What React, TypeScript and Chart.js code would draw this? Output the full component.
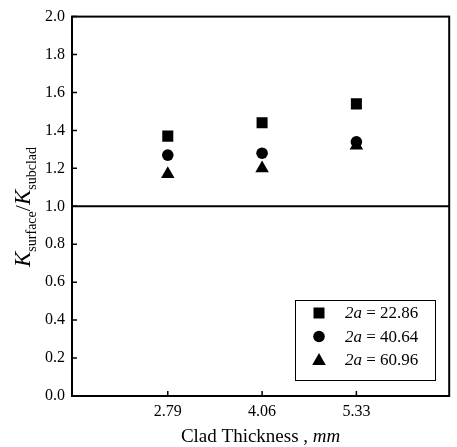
import React, { useEffect, useRef } from "react";
import { Chart, registerables } from "chart.js";

Chart.register(...registerables);

const cladThickness = [2.79, 4.06, 5.33];
const crack2286 = [1.37, 1.44, 1.54];
const crack4064 = [1.27, 1.28, 1.34];
const crack6096 = [1.17, 1.2, 1.32];
const seriesLabels = ["22.86", "40.64", "60.96"];
const yTicks = [0, 0.2, 0.4, 0.6, 0.8, 1.0, 1.2, 1.4, 1.6, 1.8, 2.0];

const FONT = "'Liberation Serif', 'Times New Roman', serif";

function drawMarker(ctx: CanvasRenderingContext2D, style: string, x: number, y: number) {
  ctx.fillStyle = "#000";
  ctx.beginPath();
  if (style === "rect") {
    ctx.rect(x - 5.5, y - 5.5, 11, 11);
  } else if (style === "circle") {
    ctx.arc(x, y, 5.8, 0, Math.PI * 2);
  } else {
    ctx.moveTo(x, y - 6.5);
    ctx.lineTo(x + 6.8, y + 5.5);
    ctx.lineTo(x - 6.8, y + 5.5);
    ctx.closePath();
  }
  ctx.fill();
}

const framePlugin = {
  id: "frame",
  afterDraw(chart: any) {
    const ctx: CanvasRenderingContext2D = chart.ctx;
    const { left, right, top, bottom } = chart.chartArea;
    const xs = chart.scales.x;
    const ys = chart.scales.y;
    ctx.save();
    ctx.strokeStyle = "#000";
    ctx.lineWidth = 2;
    ctx.strokeRect(left, top, right - left, bottom - top);
    const y1 = ys.getPixelForValue(1.0);
    ctx.beginPath();
    ctx.moveTo(left, y1);
    ctx.lineTo(right, y1);
    ctx.stroke();
    ctx.lineWidth = 1.5;
    ctx.beginPath();
    yTicks.forEach((v) => {
      const py = ys.getPixelForValue(v);
      ctx.moveTo(left, py);
      ctx.lineTo(left + 5, py);
    });
    cladThickness.forEach((v) => {
      const px = xs.getPixelForValue(v);
      ctx.moveTo(px, bottom);
      ctx.lineTo(px, bottom - 5);
    });
    ctx.stroke();

    // x title
    ctx.fillStyle = "#000";
    ctx.textBaseline = "alphabetic";
    const normal = `19px ${FONT}`;
    const ital = `italic 19px ${FONT}`;
    const p1 = "Clad Thickness , ";
    const p2 = "mm";
    ctx.font = normal;
    const w1 = ctx.measureText(p1).width;
    ctx.font = ital;
    const w2 = ctx.measureText(p2).width;
    const cx = (left + right) / 2;
    const sx = cx - (w1 + w2) / 2;
    ctx.font = normal;
    ctx.textAlign = "left";
    ctx.fillText(p1, sx, 442);
    ctx.font = ital;
    ctx.fillText(p2, sx + w1, 442);

    // y title (rotated)
    ctx.save();
    ctx.translate(30, 207);
    ctx.rotate(-Math.PI / 2);
    const parts: [string, string, number][] = [
      ["K", `italic 23px ${FONT}`, 0],
      ["surface", `14px ${FONT}`, 6],
      ["/", `22px ${FONT}`, 0],
      ["K", `italic 23px ${FONT}`, 0],
      ["subclad", `14px ${FONT}`, 6],
    ];
    let total = 0;
    parts.forEach(([t, f]) => {
      ctx.font = f;
      total += ctx.measureText(t).width;
    });
    let tx = -total / 2;
    parts.forEach(([t, f, dy]) => {
      ctx.font = f;
      ctx.fillText(t, tx, dy);
      tx += ctx.measureText(t).width;
    });
    ctx.restore();

    // legend
    ctx.lineWidth = 1;
    ctx.strokeRect(295.5, 300.5, 140, 80);
    const styles = ["rect", "circle", "triangle"];
    const rows = [313, 336.5, 359.5];
    styles.forEach((s, i) => {
      drawMarker(ctx, s, 319, rows[i]);
      ctx.textBaseline = "middle";
      ctx.font = `italic 17px ${FONT}`;
      ctx.fillText("2a", 345, rows[i] + 1);
      const wa = ctx.measureText("2a").width;
      ctx.font = `17px ${FONT}`;
      ctx.fillText(" = " + seriesLabels[i], 345 + wa, rows[i] + 1);
    });
    ctx.restore();
  },
};

export default function App() {
  const ref = useRef<HTMLCanvasElement>(null);
  useEffect(() => {
    if (!ref.current) return;
    const mk = (vals: number[]) => vals.map((v, i) => ({ x: cladThickness[i], y: v }));
    const chart = new Chart(ref.current, {
      type: "scatter",
      data: {
        datasets: [
          { label: "2a = 22.86", data: mk(crack2286), pointStyle: "rect", pointRadius: 7.8, backgroundColor: "#000", borderColor: "#000", borderWidth: 0 },
          { label: "2a = 40.64", data: mk(crack4064), pointStyle: "circle", pointRadius: 5.8, backgroundColor: "#000", borderColor: "#000", borderWidth: 0 },
          { label: "2a = 60.96", data: mk(crack6096), pointStyle: "triangle", pointRadius: 7.8, backgroundColor: "#000", borderColor: "#000", borderWidth: 0 },
        ],
      },
      options: {
        responsive: false,
        animation: false,
        devicePixelRatio: 1,
        layout: { padding: { left: 0, top: 13, right: 6, bottom: 0 } },
        plugins: { legend: { display: false }, tooltip: { enabled: false } },
        scales: {
          x: {
            type: "linear",
            min: 1.5,
            max: 6.58,
            grid: { display: false, drawTicks: false },
            border: { display: false },
            afterBuildTicks: (scale: any) => {
              scale.ticks = cladThickness.map((v) => ({ value: v }));
            },
            afterFit: (scale: any) => {
              scale.height = 51;
            },
            ticks: {
              padding: 6,
              color: "#000",
              font: { family: FONT, size: 16 },
              callback: (v: any) => Number(v).toFixed(2),
            },
          },
          y: {
            min: 0,
            max: 2,
            grid: { display: false, drawTicks: false },
            border: { display: false },
            afterBuildTicks: (scale: any) => {
              scale.ticks = yTicks.map((v) => ({ value: v }));
            },
            afterFit: (scale: any) => {
              scale.width = 72;
            },
            ticks: {
              padding: 7,
              color: "#000",
              font: { family: FONT, size: 16 },
              callback: (v: any) => Number(v).toFixed(1),
            },
          },
        },
      },
      plugins: [framePlugin],
    } as any);
    return () => chart.destroy();
  }, []);
  return (
    <div style={{ position: "fixed", left: 0, top: 0, width: 457, height: 447, background: "#fff" }}>
      <canvas ref={ref} width={457} height={447} style={{ width: 457, height: 447, display: "block" }} />
    </div>
  );
}
